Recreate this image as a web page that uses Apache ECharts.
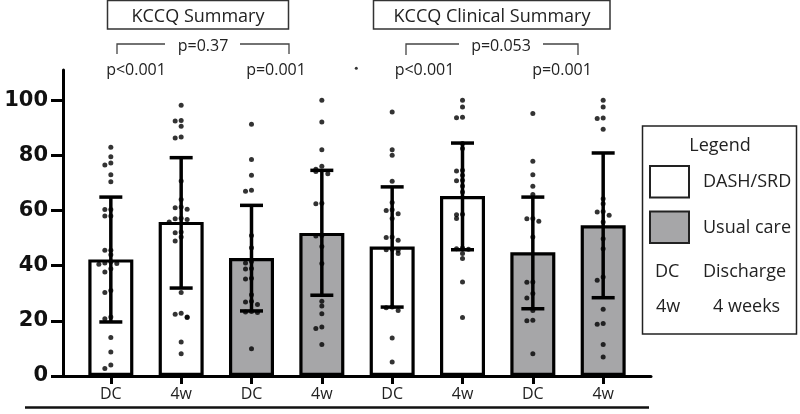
<!DOCTYPE html>
<html>
<head>
<meta charset="utf-8">
<script src="https://cdn.jsdelivr.net/npm/echarts@6/dist/echarts.min.js"></script>
<style>html,body{margin:0;padding:0;background:#fff}#c{width:800px;height:414px}</style>
</head>
<body>
<div id="c"></div>
<script>
// ---- data ----
const categories = ['DC', '4w', 'DC', '4w', 'DC', '4w', 'DC', '4w'];
const groups = ['DASH/SRD', 'DASH/SRD', 'Usual care', 'Usual care', 'DASH/SRD', 'DASH/SRD', 'Usual care', 'Usual care'];
const means = [42.3, 55.9, 42.8, 51.9, 47.0, 65.3, 44.9, 54.7];
const errLow = [19.6, 31.9, 23.6, 29.3, 25.0, 45.8, 24.4, 28.4];
const errHigh = [64.9, 79.2, 61.9, 74.6, 68.6, 84.5, 64.9, 80.9];
const yTicks = [0, 20, 40, 60, 80, 100];
const pts0 = [83, 79.5, 77.3, 76.5, 73, 70.5, 60.4, 60.4, 58, 58, 45.6, 45.6, 44, 41.4, 41, 40.8, 40.5, 38.9, 37.7, 31, 30.3, 21.4, 20.8, 14, 8.7, 4, 2.7];
const pts1 = [98.2, 92.7, 92.5, 90.6, 86.7, 86.3, 70.7, 64, 61.3, 61, 60.5, 57.2, 57, 56.8, 55.9, 52.2, 52, 50.4, 49, 30.3, 22.8, 22.4, 21.4, 21.2, 12.3, 8.1];
const pts2 = [91.3, 78.5, 72.8, 67.4, 67, 51, 46.5, 41.5, 41, 39, 38.8, 35.5, 35.2, 29.5, 27.1, 26.8, 25.9, 23.4, 23.2, 23, 9.9];
const pts3 = [100, 92.1, 82.1, 76.1, 75, 74.2, 73.4, 62.7, 62.5, 51, 50.8, 47, 40.8, 27.1, 25.4, 22.6, 17.8, 17.2, 11.4];
const pts4 = [95.8, 82.1, 80.1, 70.6, 62.9, 60.3, 60, 58.9, 57.1, 50.4, 50.2, 49.2, 46, 45.8, 45.6, 44.4, 25, 24.8, 23.8, 13.8, 5.1];
const pts5 = [100, 97.6, 93.9, 93.7, 84.3, 82.5, 74.6, 74.4, 72.8, 71, 70.8, 68.9, 66.7, 58.7, 58.5, 57.1, 46.4, 46.2, 46, 44.4, 42.6, 34.1, 21.2];
const pts6 = [95.2, 77.9, 73, 68.8, 65.8, 57.1, 57, 56.1, 50.4, 34.1, 34, 29.9, 28.3, 23.8, 20.2, 20, 8.1];
const pts7 = [100, 97.6, 93.6, 93.4, 89.5, 64.3, 62.5, 59.7, 59.5, 58.3, 55.9, 49.8, 46.2, 35.9, 34.7, 24.2, 19, 18.8, 11.4, 6.9];
const strayDot = [[3.49, 111.6]];
const panelTitles = ['KCCQ Summary', 'KCCQ Clinical Summary'];
const pBetween = ['p=0.37', 'p=0.053'];
const pWithin = ['p<0.001', 'p=0.001', 'p<0.001', 'p=0.001'];

// ---- build ----
const allPts = [pts0, pts1, pts2, pts3, pts4, pts5, pts6, pts7];
const groupColor = {'DASH/SRD': '#ffffff', 'Usual care': '#a6a6a8'};
const jitterSteps = [0, -1, 1, -2, 2, -3, 3];
const scatterData = [];
allPts.forEach((arr, i) => {
  arr.forEach((v, j) => {
    let k = 0;
    for (let m = 0; m < j; m++) if (Math.abs(arr[m] - v) < 1.6) k++;
    scatterData.push([i + jitterSteps[Math.min(k, 6)] * 0.085, v]);
  });
});
const barData = means.map((m, i) => ({value: [i, m], itemStyle: {color: groupColor[groups[i]]}}));
const errData = means.map((m, i) => [i, errLow[i], errHigh[i]]);
const idx = categories.map((c, i) => i);

const FONT = '"Open Sans", sans-serif';
const chart = echarts.init(document.getElementById('c'), null, {renderer: 'canvas'});

function txt(x, y, s, size, align) {
  return {type: 'text', x: x, y: y, z: 100,
    style: {text: s, font: size + 'px ' + FONT, fill: '#222', align: align || 'center', verticalAlign: 'middle'}};
}
const graphics = [
  {type: 'rect', z: 100, shape: {x: 107.5, y: 0.5, width: 181, height: 28.5}, style: {fill: '#fff', stroke: '#333', lineWidth: 1.5}},
  txt(198, 17, panelTitles[0], 18),
  {type: 'rect', z: 100, shape: {x: 373.5, y: 0.5, width: 236.5, height: 28.5}, style: {fill: '#fff', stroke: '#333', lineWidth: 1.5}},
  txt(492, 17, panelTitles[1], 18),
  {type: 'polyline', z: 100, shape: {points: [[165, 44], [117, 44], [117, 54]]}, style: {stroke: '#444', lineWidth: 1.3, fill: null}},
  {type: 'polyline', z: 100, shape: {points: [[240, 44], [289, 44], [289, 54]]}, style: {stroke: '#444', lineWidth: 1.3, fill: null}},
  txt(203, 46, pBetween[0], 16),
  {type: 'polyline', z: 100, shape: {points: [[459, 44], [406, 44], [406, 55]]}, style: {stroke: '#444', lineWidth: 1.3, fill: null}},
  {type: 'polyline', z: 100, shape: {points: [[543, 44], [578, 44], [578, 55]]}, style: {stroke: '#444', lineWidth: 1.3, fill: null}},
  txt(501, 46, pBetween[1], 16),
  txt(136, 70, pWithin[0], 16),
  txt(276, 70, pWithin[1], 16),
  txt(424.5, 70, pWithin[2], 16),
  txt(562, 70, pWithin[3], 16),
  {type: 'line', z: 100, shape: {x1: 25, y1: 407.5, x2: 649, y2: 407.5}, style: {stroke: '#111', lineWidth: 2.5}},
  // legend
  {type: 'rect', z: 100, shape: {x: 642.5, y: 126, width: 154, height: 208}, style: {fill: '#fff', stroke: '#222', lineWidth: 1.5}},
  txt(720, 146, 'Legend', 18),
  {type: 'rect', z: 101, shape: {x: 650, y: 166, width: 39, height: 31.5}, style: {fill: groupColor['DASH/SRD'], stroke: '#222', lineWidth: 2}},
  txt(703, 182, 'DASH/SRD', 18, 'left'),
  {type: 'rect', z: 101, shape: {x: 650, y: 211.5, width: 39, height: 31.5}, style: {fill: groupColor['Usual care'], stroke: '#222', lineWidth: 2}},
  txt(703, 228, 'Usual care', 18, 'left'),
  txt(655, 272, 'DC', 18, 'left'),
  txt(703, 272, 'Discharge', 18, 'left'),
  txt(656, 307, '4w', 18, 'left'),
  txt(713, 307, '4 weeks', 18, 'left')
];

chart.setOption({
  animation: false,
  backgroundColor: '#fff',
  grid: {left: 63, right: 149, top: 70, bottom: 38, containLabel: false},
  xAxis: {
    type: 'value', min: -0.68, max: 7.68,
    axisLine: {show: true, onZero: false, lineStyle: {color: '#000', width: 3}},
    axisTick: {show: true, customValues: idx, length: 8, lineStyle: {color: '#000', width: 3}},
    axisLabel: {customValues: idx, formatter: v => categories[Math.round(v)], fontSize: 16, fontFamily: FONT, color: '#222', margin: 10},
    splitLine: {show: false}
  },
  yAxis: {
    type: 'value', min: 0, max: 111,
    axisLine: {show: true, onZero: false, lineStyle: {color: '#000', width: 3}},
    axisTick: {show: true, customValues: yTicks, length: 12, lineStyle: {color: '#000', width: 3}},
    axisLabel: {customValues: yTicks, fontSize: 21, fontWeight: 'bold', fontFamily: '"DejaVu Sans", sans-serif', color: '#111', margin: 15},
    splitLine: {show: false}
  },
  series: [
    {type: 'bar', name: 'means', data: barData, barWidth: 45,
     itemStyle: {borderColor: '#000', borderWidth: 3.2}, z: 2},
    {type: 'custom', name: 'sd', data: errData, z: 3,
     renderItem: function (params, api) {
       const x = api.value(0);
       const lo = api.coord([x, api.value(1)]);
       const hi = api.coord([x, api.value(2)]);
       const h = 11.5;
       const st = {stroke: '#000', lineWidth: 3.5};
       return {type: 'group', children: [
         {type: 'line', shape: {x1: lo[0], y1: lo[1], x2: hi[0], y2: hi[1]}, style: st},
         {type: 'line', shape: {x1: lo[0] - h, y1: lo[1], x2: lo[0] + h, y2: lo[1]}, style: st},
         {type: 'line', shape: {x1: hi[0] - h, y1: hi[1], x2: hi[0] + h, y2: hi[1]}, style: st}
       ]};
     }},
    {type: 'scatter', name: 'points', data: scatterData, symbolSize: 5,
     itemStyle: {color: '#000'}, z: 4},
    {type: 'scatter', name: 'stray', data: strayDot, symbolSize: 3, clip: false,
     itemStyle: {color: '#000'}, z: 4}
  ],
  graphic: graphics
});
</script>
</body>
</html>
